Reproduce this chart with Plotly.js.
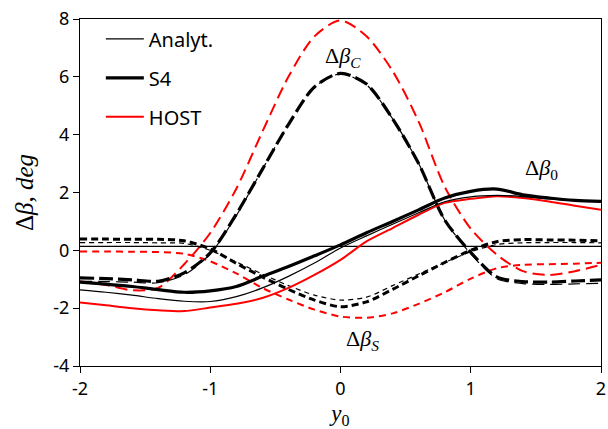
<!DOCTYPE html>
<html>
<head>
<meta charset="utf-8">
<script src="https://cdn.plot.ly/plotly-3.0.1.min.js"></script>
<style>html,body{margin:0;padding:0;background:#fff;}#chart{width:608px;height:429px;}</style>
</head>
<body>
<div id="chart"></div>
<script>
// x positions (y0)
const xs = [-2,-1.8,-1.6,-1.4,-1.2,-1,-0.8,-0.6,-0.4,-0.2,0,0.2,0.4,0.6,0.8,1,1.2,1.4,1.6,1.8,2];

// Δβ0 (solid lines)
const b0Analyt = [-1.37,-1.45,-1.55,-1.67,-1.76,-1.77,-1.6,-1.3,-0.9,-0.44,0.08,0.5,0.9,1.3,1.68,1.85,1.9,1.86,1.78,1.72,1.68];
const b0S4     = [-1.1,-1.17,-1.25,-1.36,-1.45,-1.4,-1.25,-0.9,-0.56,-0.19,0.19,0.61,1.0,1.4,1.81,2.04,2.12,1.92,1.81,1.73,1.69];
const b0HOST   = [-1.8,-1.9,-2.0,-2.07,-2.1,-1.98,-1.85,-1.65,-1.3,-0.85,-0.33,0.31,0.77,1.23,1.64,1.78,1.87,1.81,1.69,1.54,1.4];

// ΔβC (long dashes)
const bCAnalyt = [-1.07,-1.08,-1.1,-1.12,-0.85,-0.12,1.2,2.8,4.35,5.65,6.1,5.72,4.55,3.0,1.05,-0.12,-0.98,-1.15,-1.18,-1.16,-1.14];
const bCS4     = [-0.95,-0.98,-1.02,-1.07,-0.78,-0.09,1.25,2.8,4.35,5.65,6.12,5.75,4.55,3.0,1.05,-0.07,-0.92,-1.08,-1.1,-1.06,-1.02];
const bCHOST   = [-1.08,-1.2,-1.38,-1.3,-0.48,0.6,2.13,4.1,6.0,7.4,7.95,7.4,6.2,4.45,2.2,0.75,-0.15,-0.72,-0.85,-0.72,-0.5];

// ΔβS (short dashes)
const bSAnalyt = [0.27,0.27,0.27,0.26,0.24,0.0,-0.4,-0.82,-1.22,-1.55,-1.72,-1.62,-1.22,-0.82,-0.42,-0.05,0.2,0.26,0.27,0.27,0.26];
const bSS4     = [0.39,0.39,0.38,0.38,0.33,0.05,-0.45,-0.92,-1.35,-1.72,-1.95,-1.78,-1.35,-0.88,-0.42,0.0,0.3,0.37,0.36,0.35,0.33];
const bSHOST   = [-0.04,-0.04,-0.05,-0.06,-0.12,-0.38,-0.8,-1.3,-1.7,-2.05,-2.29,-2.33,-2.18,-1.85,-1.45,-0.98,-0.62,-0.5,-0.48,-0.46,-0.43];

// thin horizontal reference (analytical)
const refLine = xs.map(() => 0.14);

// tick labels
const xTickVals = [-2, -1, 0, 1, 2];
const xTickText = ['-2', '-1', '0', '1', '2'];
const yTickVals = [-4, -2, 0, 2, 4, 6, 8];
const yTickText = ['-4', '-2', '0', '2', '4', '6', '8'];

const legendNames = ['Analyt.', 'S4', 'HOST'];
const annText = ['Δ<i>β</i><sub><i>C</i></sub>', 'Δ<i>β</i><sub>0</sub>', 'Δ<i>β</i><sub><i>S</i></sub>'];
const annX = [0.02, 1.54, 0.17];
const annY = [6.7, 2.8, -3.1];

function tr(y, color, width, dash, name, show, rank) {
  return {x: xs, y: y, mode: 'lines', type: 'scatter',
    line: {color: color, width: width, dash: dash, shape: 'spline', smoothing: 0.8},
    name: name || '', showlegend: !!show, legendgroup: name || undefined, legendrank: rank || 1000, hoverinfo: 'skip'};
}

const data = [
  {x: xs, y: refLine, mode: 'lines', type: 'scatter', line: {color: '#000', width: 1.2}, showlegend: false, hoverinfo: 'skip'},
  tr(bCHOST, '#ff0000', 2, '12px,6px'),
  tr(bSHOST, '#ff0000', 2, '7px,5px'),
  tr(bCS4, '#000', 3.2, '14px,5px'),
  tr(bCAnalyt, '#000', 1.2, '12px,6px'),
  tr(bSS4, '#000', 3, '7px,4px'),
  tr(bSAnalyt, '#000', 1.2, '5px,4px'),
  tr(b0HOST, '#ff0000', 2, 'solid', legendNames[2], true, 3),
  tr(b0Analyt, '#000', 1.2, 'solid', legendNames[0], true, 1),
  tr(b0S4, '#000', 3.2, 'solid', legendNames[1], true, 2)
];

const serif = 'Liberation Serif, DejaVu Serif, serif';
const annotations = annText.map((t, i) => ({x: annX[i], y: annY[i], xref: 'x', yref: 'y', text: t, showarrow: false,
  font: {family: serif, size: 22, color: '#000'}}));

const layout = {
  width: 608, height: 429,
  margin: {l: 80, r: 7, t: 19, b: 63},
  paper_bgcolor: '#fff', plot_bgcolor: '#fff',
  font: {family: 'Noto Sans, Open Sans, sans-serif', size: 18, color: '#000'},
  showlegend: true,
  legend: {x: 0.04, y: 0.999, xanchor: 'left', yanchor: 'top', bgcolor: 'rgba(0,0,0,0)', itemwidth: 38,
    font: {family: 'Noto Sans, Open Sans, sans-serif', size: 20, color: '#000'}, tracegroupgap: 10, traceorder: 'grouped'},
  xaxis: {range: [-2, 2], tickvals: xTickVals, ticktext: xTickText, ticks: 'outside', ticklen: 6, tickcolor: '#000',
    showline: true, linecolor: '#000', linewidth: 1, mirror: true, showgrid: false, zeroline: false,
    tickfont: {size: 18},
    title: {text: '<i>y</i><sub>0</sub>', font: {family: serif, size: 23}, standoff: 18}},
  yaxis: {range: [-4, 8], tickvals: yTickVals, ticktext: yTickText, ticks: 'outside', ticklen: 6, tickcolor: '#000',
    showline: true, linecolor: '#000', linewidth: 1, mirror: true, showgrid: false, zeroline: false,
    tickfont: {size: 18},
    title: {text: 'Δ<i>β</i>, <i>deg</i>', font: {family: serif, size: 25}, standoff: 12}},
  annotations: annotations
};

Plotly.newPlot('chart', data, layout, {staticPlot: true, displayModeBar: false});
</script>
</body>
</html>
